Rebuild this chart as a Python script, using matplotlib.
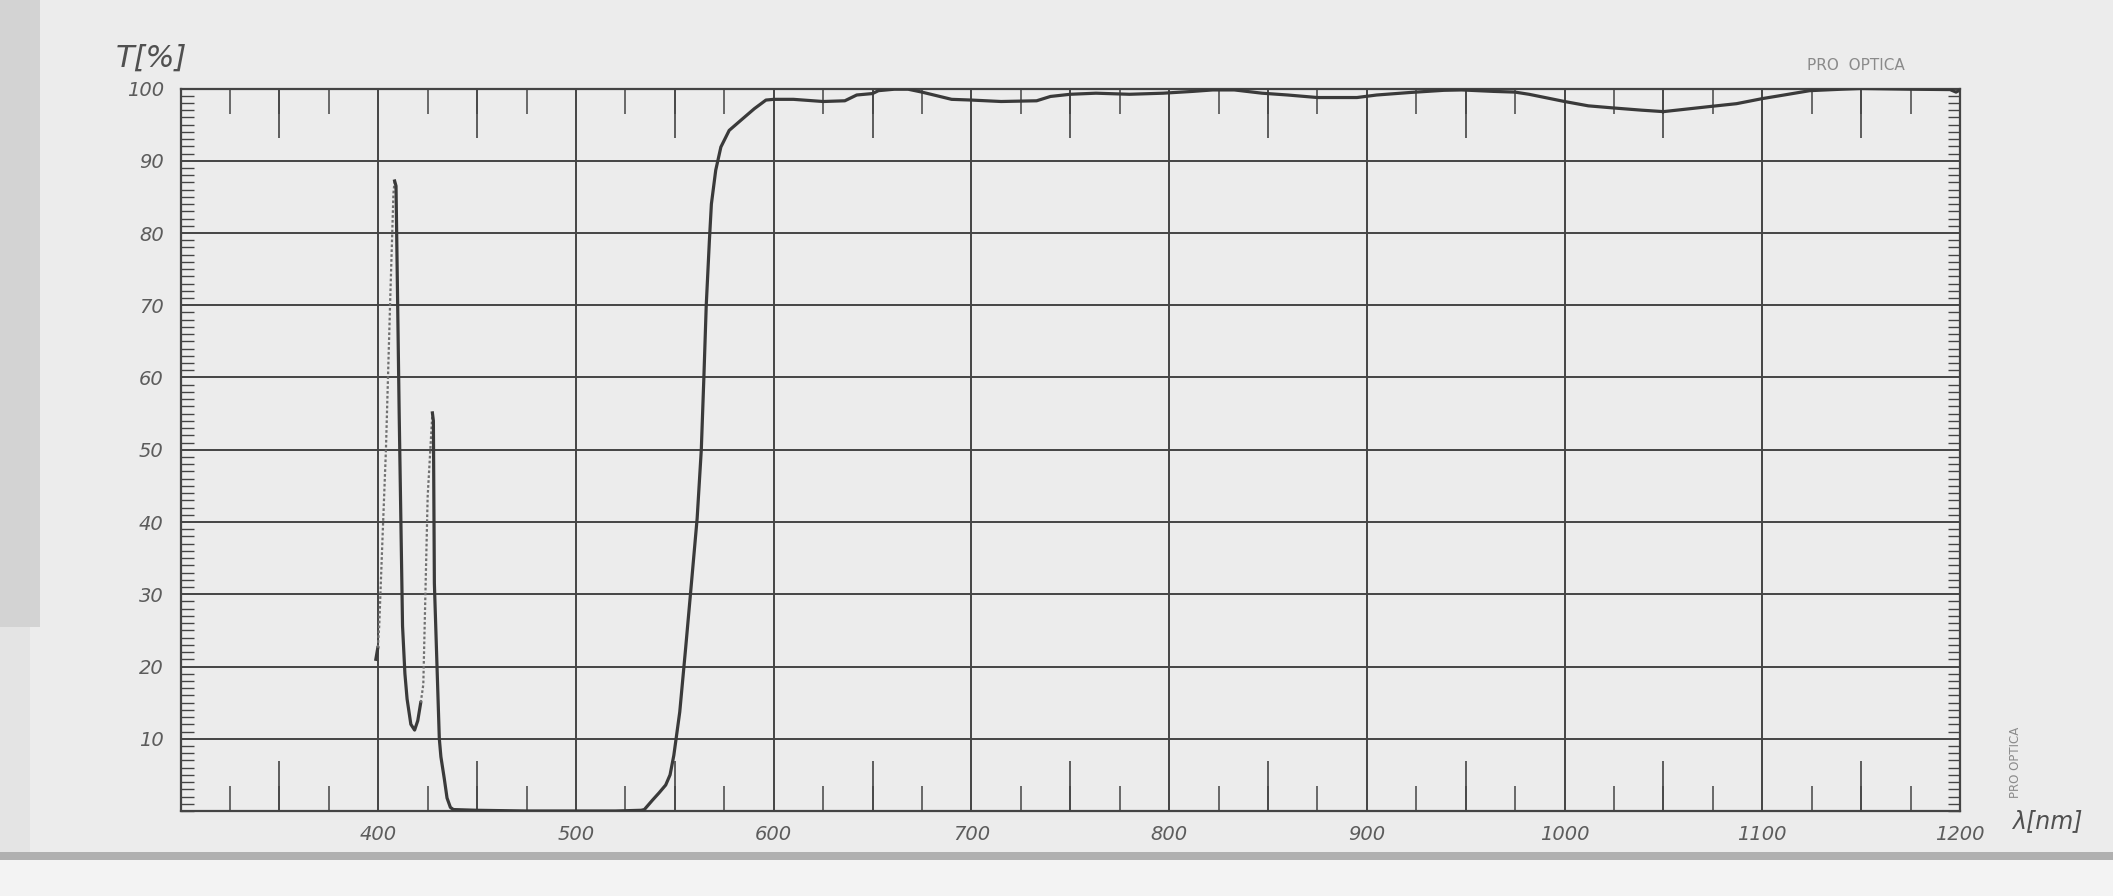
import numpy as np
import matplotlib
matplotlib.use("Agg")
import matplotlib.pyplot as plt
from matplotlib.ticker import MultipleLocator, FixedLocator
from matplotlib.patches import Rectangle

# ---------------- data ----------------
wavelength_nm = [398.8, 399.8, 400.5, 402.2, 403.9, 406.0, 407.7, 408.3,
                 409.0, 410.6, 412.3, 413.5, 414.6, 416.5, 418.4, 420.0, 421.5,
                 422.8, 425.0, 427.4,
                 427.9, 428.4, 430.9, 431.7, 433.4, 434.8, 436.5, 438.0,
                 450.0, 475.0, 500.0, 520.0, 533.0,
                 534.6, 538.7, 542.0, 545.4, 547.6, 549.5, 552.5, 555.5, 558.4,
                 561.3, 563.4, 564.7, 565.9, 567.5, 568.5, 570.7, 573.3, 577.5,
                 583.4, 590.2, 596.1, 600.0, 610.0, 625.0, 636.0, 642.0, 650.0,
                 653.0, 661.0, 668.0, 675.0, 681.0, 690.0, 700.0, 715.0, 733.0,
                 740.0, 750.0, 763.0, 780.0, 797.0, 812.0, 822.0, 833.0, 847.0,
                 860.0, 875.0, 895.0, 905.0, 922.0, 939.0, 948.0, 964.0, 975.0,
                 982.0, 1000.0, 1012.0, 1025.0, 1039.0, 1050.0, 1060.0, 1075.0,
                 1087.0, 1100.0, 1111.0, 1124.0, 1140.0, 1150.0, 1175.0, 1195.0,
                 1198.0, 1200.0]
transmission_pct = [21.0, 22.6, 25.6, 38.0, 50.0, 70.2, 85.5, 87.2,
                    86.5, 55.0, 25.6, 19.0, 15.5, 12.0, 11.2, 12.5, 15.0,
                    17.5, 43.5, 55.1,
                    54.0, 31.5, 10.0, 7.5, 4.5, 1.8, 0.5, 0.2,
                    0.1, 0.0, 0.0, 0.0, 0.1,
                    0.2, 1.5, 2.5, 3.6, 5.0, 7.7, 13.7, 22.6, 31.5,
                    40.5, 50.0, 60.0, 70.0, 79.0, 84.0, 88.7, 91.9, 94.2,
                    95.6, 97.2, 98.4, 98.5, 98.5, 98.2, 98.3, 99.1, 99.3,
                    99.7, 99.9, 99.9, 99.5, 99.1, 98.5, 98.4, 98.2, 98.3,
                    98.9, 99.2, 99.35, 99.2, 99.35, 99.6, 99.8, 99.8, 99.35,
                    99.1, 98.75, 98.75, 99.1, 99.45, 99.75, 99.8, 99.6, 99.5,
                    99.2, 98.2, 97.6, 97.3, 97.0, 96.8, 97.1, 97.55,
                    97.9, 98.6, 99.1, 99.7, 99.9, 100.0, 99.9, 99.85,
                    99.5, 99.8]

x_tick_values = [400, 500, 600, 700, 800, 900, 1000, 1100, 1200]
x_tick_labels = ["400", "500", "600", "700", "800", "900", "1000", "1100", "1200"]
y_tick_values = [10, 20, 30, 40, 50, 60, 70, 80, 90, 100]
y_tick_labels = ["10", "20", "30", "40", "50", "60", "70", "80", "90", "100"]

# ---------------- figure ----------------
W, H, DPI = 2113, 896, 100
paper = "#ececec"
ink = "#444444"
pencil = "#5c5c5c"

fig = plt.figure(figsize=(W / DPI, H / DPI), dpi=DPI, facecolor=paper)

# scan artefacts: dark left edge and the grey band near the bottom
fig.patches.append(Rectangle((0, 0.30), 40 / W, 0.70, transform=fig.transFigure,
                             facecolor="#d3d3d3", edgecolor="none", zorder=0))
fig.patches.append(Rectangle((0, 0.0), 30 / W, 0.30, transform=fig.transFigure,
                             facecolor="#e4e4e4", edgecolor="none", zorder=0))
fig.patches.append(Rectangle((0, 1 - 860 / H), 1.0, 8 / H, transform=fig.transFigure,
                             facecolor="#b0b0b0", edgecolor="none", zorder=0))
fig.patches.append(Rectangle((0, 0), 1.0, 1 - 860 / H, transform=fig.transFigure,
                             facecolor="#f3f3f3", edgecolor="none", zorder=0))

ax = fig.add_axes([180.5 / W, 1 - 811 / H, (1960 - 180.5) / W, (811 - 88.5) / H])
ax.set_facecolor(paper)
ax.set_xlim(300, 1200)
ax.set_ylim(0, 100)

wl = np.array(wavelength_nm)
tr = np.array(transmission_pct)

# find the fast pen sweeps (rising flanks of the two narrow peaks)
i_pk1 = int(np.argmax(np.where(wl < 415, tr, -1)))
i_min = int(np.argmin(np.where((wl > 412) & (wl < 425), tr, 1e9)))
i_pk2 = int(np.argmax(np.where((wl > 420) & (wl < 432), tr, -1)))
i_rise2 = i_min + 2

solid_kw = dict(color="#3a3a3a", lw=2.3, solid_joinstyle="round", zorder=5)
dot_kw = dict(color="#707070", lw=1.6, ls=(0, (1.2, 1.0)), zorder=5)

ax.plot(wl[:2], tr[:2], **solid_kw)
ax.plot(wl[1:i_pk1 + 1], tr[1:i_pk1 + 1], **dot_kw)
ax.plot(wl[i_pk1:i_rise2 + 1], tr[i_pk1:i_rise2 + 1], **solid_kw)
ax.plot(wl[i_rise2:i_pk2 + 1], tr[i_rise2:i_pk2 + 1], **dot_kw)
ax.plot(wl[i_pk2:], tr[i_pk2:], **solid_kw)

# grid
ax.xaxis.set_major_locator(FixedLocator(x_tick_values))
ax.yaxis.set_major_locator(FixedLocator(y_tick_values))
ax.grid(True, which="major", color=ink, lw=1.4, zorder=1)
ax.set_axisbelow(True)

for s in ax.spines.values():
    s.set_color(ink)
    s.set_linewidth(1.6)

lab_font = dict(family="DejaVu Sans", style="italic", size=14, color=pencil)
ax.set_xticks(x_tick_values, x_tick_labels, **lab_font)
ax.set_yticks(y_tick_values, y_tick_labels, **lab_font)
ax.tick_params(axis="x", which="major", length=0, pad=10)
ax.tick_params(axis="y", which="major", length=0, pad=12)

# 1 % ticks on both vertical spines
ax.yaxis.set_minor_locator(MultipleLocator(1))
ax.tick_params(axis="y", which="minor", direction="in", length=9, width=1.0,
               color=ink, left=True, right=True)
# 25 nm short ticks top and bottom
ax.xaxis.set_minor_locator(MultipleLocator(25))
ax.tick_params(axis="x", which="minor", direction="in", length=18, width=1.1,
               color=ink, top=True, bottom=True)
# 50 nm long ticks top and bottom
long_ticks = [v for v in np.arange(350, 1200, 100)]
for loc in ("bottom", "top"):
    sec = ax.secondary_xaxis(loc)
    sec.set_xticks(long_ticks)
    sec.tick_params(direction="in", length=36, width=1.2, color=ink,
                    labelbottom=False, labeltop=False)
    for s in sec.spines.values():
        s.set_visible(False)

# texts
fig.text(116 / W, 1 - 58 / H, "T[%]", family="DejaVu Sans", style="italic",
         size=22, color="#505050", ha="left", va="center")
fig.text(2047 / W, 1 - 821 / H, "λ[nm]", family="DejaVu Sans", style="italic",
         size=17, color="#505050", ha="center", va="center")
fig.text(1856 / W, 1 - 65 / H, "PRO  OPTICA", family="DejaVu Sans",
         size=11, color="#8a8a8a", ha="center", va="center")
fig.text(2016 / W, 1 - 762 / H, "PRO OPTICA", family="DejaVu Sans",
         size=8.5, color="#8a8a8a", ha="center", va="center", rotation=90)

fig.savefig("out.png", dpi=DPI, facecolor=paper)
